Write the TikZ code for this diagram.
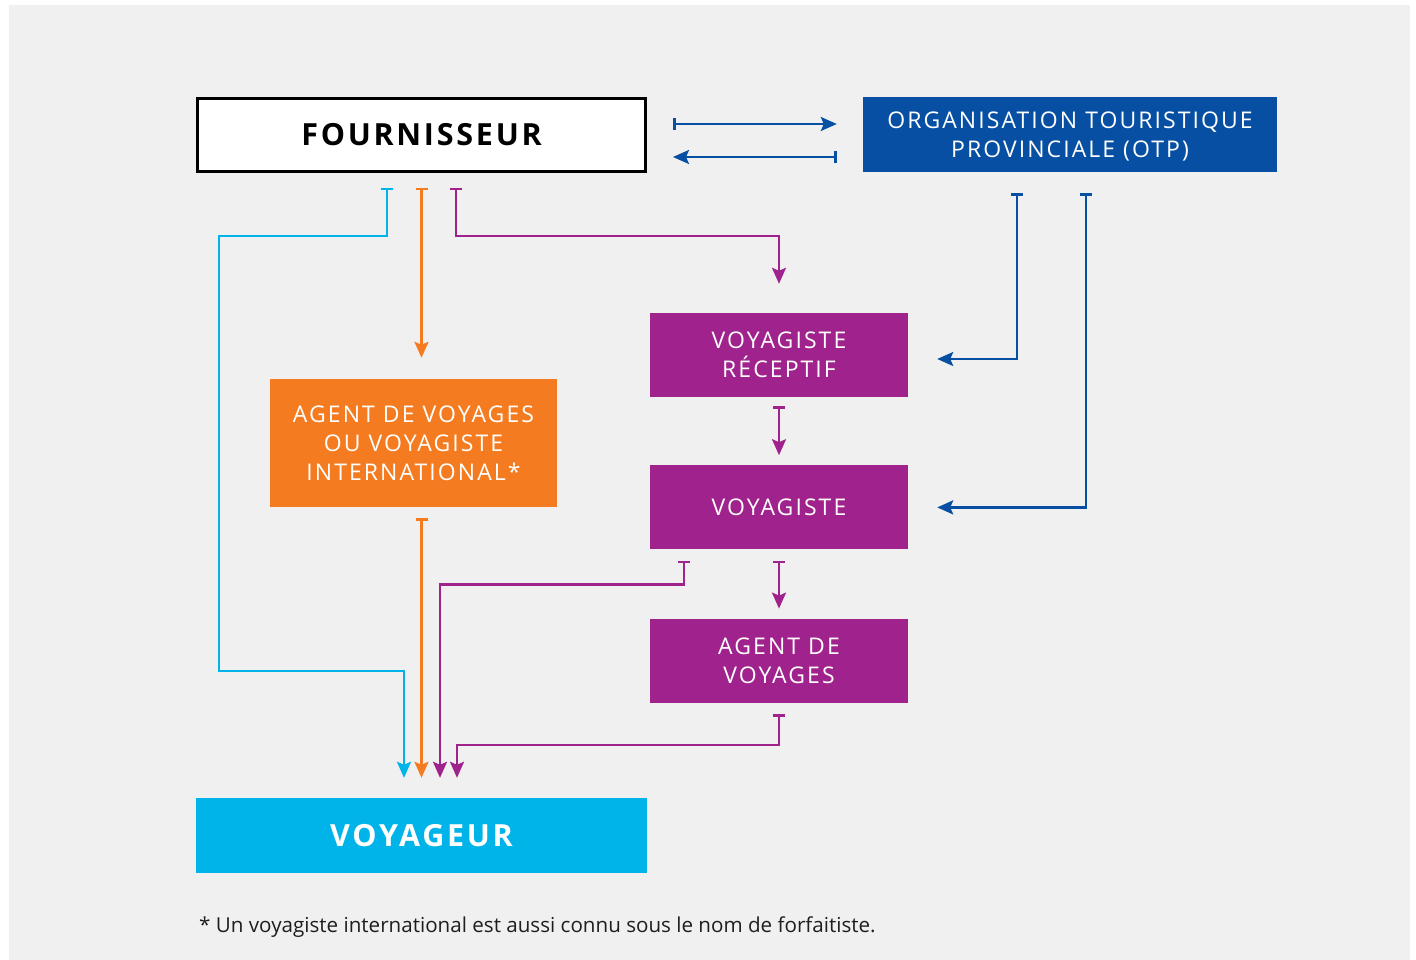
\documentclass[tikz,border=0pt]{standalone}
\usepackage{fontspec}
\setmainfont{Open Sans}
\newfontfamily\boxfont[LetterSpace=9]{Open Sans}
\usetikzlibrary{arrows.meta,positioning}

\definecolor{otpblue}{RGB}{6,79,162}
\definecolor{tourpurple}{RGB}{160,34,140}
\definecolor{tourorange}{RGB}{244,123,32}
\definecolor{tourcyan}{RGB}{0,180,234}
\definecolor{panelgray}{RGB}{240,240,240}
\definecolor{notegray}{RGB}{30,30,30}

\begin{document}
\begin{tikzpicture}[
    x=1pt, y=-1pt,
    node distance=68pt and 1.0cm,
    box/.style={align=center, inner sep=0pt, text=white, minimum width=258pt, minimum height=84pt, font=\fontsize{23}{29}\selectfont\boxfont},
    wide/.style={align=center, inner sep=0pt, minimum width=451pt, minimum height=75pt, font=\fontsize{30.5}{36}\selectfont\boxfont\bfseries},
    link/.style={line width=2.5pt, {Bar[width=12pt]}-{Stealth[length=16pt,width=14pt,inset=3pt]}}
]
\useasboundingbox (0,0) rectangle (1416,960);
\fill[panelgray] (9,5) rectangle (1410,960);

\node[wide, draw=black, line width=3pt, fill=white, minimum width=448pt, minimum height=73pt] (four) at (421.5,135) {FOURNISSEUR};
\node[box, fill=otpblue, minimum width=414pt, minimum height=75pt] (otp) at (1070,134.5) {ORGANISATION TOURISTIQUE\\PROVINCIALE \smash{(OTP)}};
\node[box, fill=tourpurple] (recep) at (779,355) {VOYAGISTE\\RÉCEPTIF};
\node[box, fill=tourpurple, below=of recep] (voyag) {VOYAGISTE};
\node[box, fill=tourpurple, below=69pt of voyag] (agent) {AGENT DE\\VOYAGES};
\node[box, fill=tourorange, minimum width=287pt, minimum height=128pt] (intl) at (413.5,443) {AGENT DE VOYAGES\\OU VOYAGISTE\\INTERNATIONAL*};
\node[wide, fill=tourcyan, text=white] (voyageur) at (421.5,835.5) {VOYAGEUR};
\node[anchor=west, inner sep=0pt, text=notegray, font=\fontsize{20.6}{24}\selectfont] (note) at (199,927.5) {* Un voyagiste international est aussi connu sous le nom de forfaitiste.};

% fournisseur <-> otp
\draw[link, otpblue] ([xshift=26pt,yshift=11pt]four.east) -- ([xshift=-26pt,yshift=10.5pt]otp.west);
\draw[link, otpblue] ([xshift=-26pt,yshift=-22.5pt]otp.west) -- ([xshift=26pt,yshift=-22pt]four.east);

% from the fournisseur
\draw[link, tourcyan] ([xshift=-34.5pt,yshift=-15pt]four.south) -- ++(0,48) -| (219,671) -| ([xshift=-17.5pt,yshift=20pt]voyageur.north);
\draw[link, tourorange] ([yshift=-15pt]four.south) -- ([xshift=8pt,yshift=21pt]intl.north);
\draw[link, tourpurple] ([xshift=34.5pt,yshift=-15pt]four.south) -- ++(0,48) -| ([yshift=29pt]recep.north);

% down the purple column
\draw[link, tourpurple] ([yshift=-9pt]recep.south) -- ([yshift=10pt]voyag.north);
\draw[link, tourpurple] ([yshift=-11pt]voyag.south) -- ([yshift=10pt]agent.north);
\draw[link, tourpurple] ([xshift=-95pt,yshift=-11pt]voyag.south) -- ++(0,24) -| ([xshift=18.5pt,yshift=20pt]voyageur.north);
\draw[link, tourpurple] ([yshift=-11pt]agent.south) -- ++(0,31) -| ([xshift=35.5pt,yshift=20pt]voyageur.north);
\draw[link, tourorange] ([xshift=8pt,yshift=-11pt]intl.south) -- ([yshift=20pt]voyageur.north);

% from the otp
\draw[link, otpblue] ([xshift=-53pt,yshift=-21pt]otp.south) |- ([xshift=29pt,yshift=-4pt]recep.east);
\draw[link, otpblue] ([xshift=16pt,yshift=-21pt]otp.south) |- ([xshift=29pt]voyag.east);
\end{tikzpicture}
\end{document}
